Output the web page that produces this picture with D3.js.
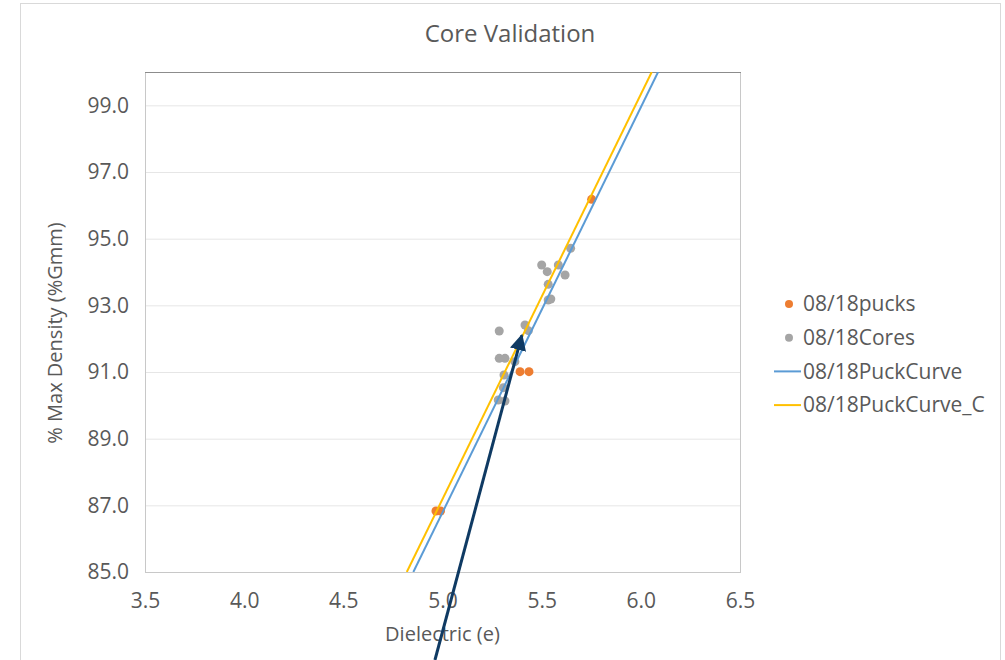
<!DOCTYPE html>
<html>
<head>
<meta charset="utf-8">
<script src="https://cdn.jsdelivr.net/npm/d3@7"></script>
<style>
  body { margin: 0; background: #fff; }
  text { font-family: "Open Sans", "Noto Sans", sans-serif; fill: #595959; }
</style>
</head>
<body>
<script>
// series
var pucksX = [5.752, 4.967, 4.990, 5.391, 5.436];
var pucksY = [96.18, 86.83, 86.83, 91.01, 91.01];

var coresX = [5.500, 5.528, 5.584, 5.618, 5.646, 5.533, 5.533, 5.546,
              5.286, 5.416, 5.433, 5.286, 5.315, 5.365, 5.310, 5.307, 5.281, 5.315];
var coresY = [94.21, 94.01, 94.21, 93.91, 94.71, 93.63, 93.16, 93.19,
              92.23, 92.41, 92.24, 91.41, 91.41, 91.31, 90.91, 90.53, 90.16, 90.13];

var puckCurveX = [4.853, 6.087];
var puckCurveY = [85.0, 100.0];
var puckCurveCX = [4.820, 6.055];
var puckCurveCY = [85.0, 100.0];

var yTicks = [85, 87, 89, 91, 93, 95, 97, 99];
var xTicks = [3.5, 4.0, 4.5, 5.0, 5.5, 6.0, 6.5];

// annotation arrow (data coords), from bottom to tip
var arrowX = [4.962, 5.400];
var arrowY = [82.36, 92.10];

var legendNames = ["08/18pucks", "08/18Cores", "08/18PuckCurve", "08/18PuckCurve_C"];
var colors = ["#ED7D31", "#A5A5A5", "#5B9BD5", "#FFC000"];

var W = 1005, H = 660;
var plot = {left: 145, right: 740, top: 72, bottom: 572};

var svg = d3.select("body").append("svg")
    .attr("width", W)
    .attr("height", H);

// chart frame
svg.append("rect")
    .attr("x", 20.5).attr("y", 3.5)
    .attr("width", 980).attr("height", 670)
    .attr("fill", "#fff")
    .attr("stroke", "#d9d9d9");

var x = d3.scaleLinear().domain([3.5, 6.5]).range([plot.left, plot.right]);
var y = d3.scaleLinear().domain([85, 100]).range([plot.bottom, plot.top]);

// gridlines
svg.append("g")
    .attr("transform", "translate(" + plot.left + ",0)")
    .call(d3.axisLeft(y).tickValues(yTicks).tickSize(-(plot.right - plot.left)).tickFormat(""))
    .call(function(g) { g.select(".domain").remove(); })
    .selectAll("line").attr("stroke", "#e6e6e6");

// plot area border
svg.append("rect")
    .attr("x", plot.left + 0.5).attr("y", plot.top + 0.5)
    .attr("width", plot.right - plot.left).attr("height", plot.bottom - plot.top)
    .attr("fill", "none")
    .attr("stroke", "#c8c8c8");
svg.append("line")
    .attr("x1", plot.left).attr("x2", plot.right + 1)
    .attr("y1", plot.top + 0.5).attr("y2", plot.top + 0.5)
    .attr("stroke", "#8c8c8c");

// axes
var yAxis = svg.append("g")
    .attr("transform", "translate(" + (plot.left - 13) + ",0)")
    .call(d3.axisLeft(y).tickValues(yTicks).tickSize(0).tickFormat(d3.format(".1f")));
yAxis.select(".domain").remove();
yAxis.selectAll("text").attr("font-size", 21).attr("font-family", null).attr("fill", "#595959");

var xAxis = svg.append("g")
    .attr("transform", "translate(0," + (plot.bottom + 18) + ")")
    .call(d3.axisBottom(x).tickValues(xTicks).tickSize(0).tickFormat(d3.format(".1f")));
xAxis.select(".domain").remove();
xAxis.selectAll("text").attr("font-size", 21).attr("font-family", null).attr("fill", "#595959");

// titles
svg.append("text")
    .attr("x", 510).attr("y", 42)
    .attr("text-anchor", "middle")
    .attr("font-size", 24)
    .text("Core Validation");

svg.append("text")
    .attr("x", (plot.left + plot.right) / 2).attr("y", 641)
    .attr("text-anchor", "middle")
    .attr("font-size", 20)
    .text("Dielectric (e)");

svg.append("text")
    .attr("transform", "translate(62,333) rotate(-90)")
    .attr("text-anchor", "middle")
    .attr("font-size", 20)
    .text("% Max Density (%Gmm)");

// clip for curves
svg.append("clipPath").attr("id", "clip")
  .append("rect")
    .attr("x", plot.left).attr("y", plot.top)
    .attr("width", plot.right - plot.left).attr("height", plot.bottom - plot.top);

var line = d3.line()
    .x(function(d) { return x(d[0]); })
    .y(function(d) { return y(d[1]); });

var curves = [
  d3.zip(puckCurveX, puckCurveY),
  d3.zip(puckCurveCX, puckCurveCY)
];

// scatter points
function dots(xs, ys, color) {
  svg.append("g").selectAll("circle")
      .data(d3.zip(xs, ys))
    .enter().append("circle")
      .attr("cx", function(d) { return x(d[0]); })
      .attr("cy", function(d) { return y(d[1]); })
      .attr("r", 4.5)
      .attr("fill", color);
}
dots(pucksX, pucksY, colors[0]);
dots(coresX, coresY, colors[1]);

svg.append("g").attr("clip-path", "url(#clip)")
  .selectAll("path")
    .data(curves)
  .enter().append("path")
    .attr("d", line)
    .attr("fill", "none")
    .attr("stroke-width", 2)
    .attr("stroke", function(d, i) { return colors[i + 2]; });

// legend
var legend = svg.append("g");
legendNames.forEach(function(name, i) {
  var ly = 304 + i * 33.7;
  if (i < 2) {
    legend.append("circle")
        .attr("cx", 789).attr("cy", ly)
        .attr("r", 4)
        .attr("fill", colors[i]);
  } else {
    legend.append("line")
        .attr("x1", 774).attr("x2", 801)
        .attr("y1", ly).attr("y2", ly)
        .attr("stroke", colors[i])
        .attr("stroke-width", 2);
  }
  legend.append("text")
      .attr("x", 803).attr("y", ly)
      .attr("dy", "0.35em")
      .attr("font-size", 21)
      .text(name);
});

// annotation arrow
svg.append("defs").append("marker")
    .attr("id", "head")
    .attr("viewBox", "0 0 10 10")
    .attr("refX", 9).attr("refY", 5)
    .attr("markerWidth", 5.5).attr("markerHeight", 5.5)
    .attr("markerUnits", "strokeWidth")
    .attr("orient", "auto")
  .append("path")
    .attr("d", "M0,0L10,5L0,10Z")
    .attr("fill", "#0f3a63");

svg.append("line")
    .attr("x1", x(arrowX[0])).attr("y1", y(arrowY[0]))
    .attr("x2", x(arrowX[1])).attr("y2", y(arrowY[1]))
    .attr("stroke", "#0f3a63")
    .attr("stroke-width", 3)
    .attr("marker-end", "url(#head)");
</script>
</body>
</html>
